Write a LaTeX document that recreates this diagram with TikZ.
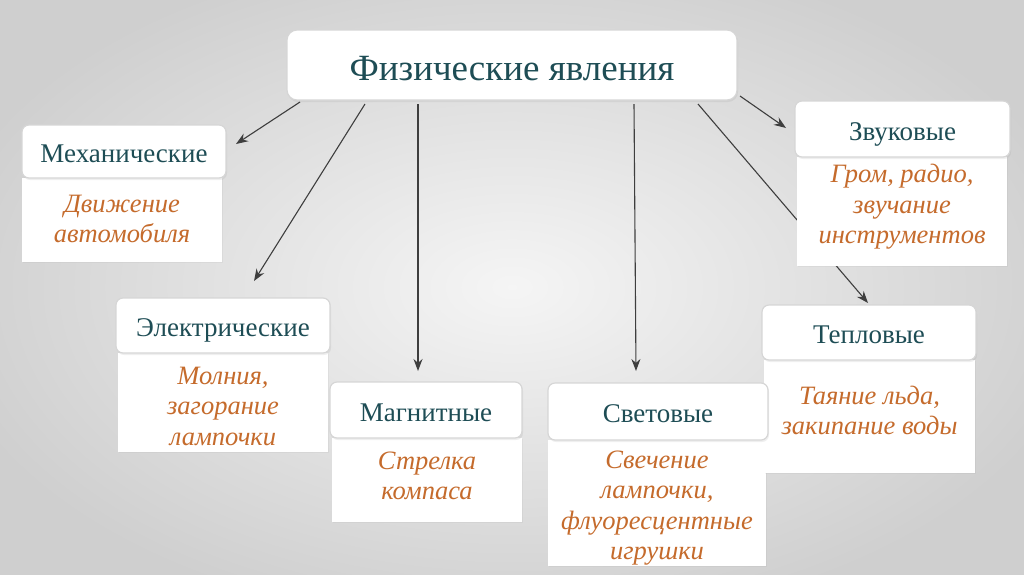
\documentclass[tikz,border=0pt]{standalone}
\usepackage{fontspec}
\setmainfont{Liberation Serif}
\usetikzlibrary{shadows,arrows.meta,calc}
\definecolor{teal1}{HTML}{1E4D55}
\definecolor{orng}{HTML}{C56B2C}
\definecolor{arr}{HTML}{3E3E3E}
\definecolor{hbord}{HTML}{D6D6D6}
\begin{document}
\begin{tikzpicture}[x=1pt,y=-1pt,
  headbox/.style={draw=hbord,line width=1.2pt,fill=white,rounded corners=7pt,
    text=teal1,font=\fontsize{27}{31}\selectfont,inner sep=0pt,
    text height=24pt,text depth=2pt,
    drop shadow={opacity=0.12,shadow xshift=1pt,shadow yshift=-2pt}},
  contbox/.style={fill=white,inner sep=0pt,
    drop shadow={opacity=0.08,shadow xshift=1pt,shadow yshift=-1pt}},
  conttext/.style={text=orng,align=center,inner sep=0pt,
    font=\fontsize{26.5}{30.5}\itshape\selectfont},
  conn/.style={draw=arr,line width=1.1pt,-{Stealth[length=12pt,width=9pt]}}
]
\useasboundingbox (0,0) rectangle (1024,574);
\shade[inner color=white!96!black,outer color=white!81!black] (-80,-60) rectangle (1104,634);

% title
\node[headbox,minimum width=450pt,minimum height=70pt,rounded corners=10pt,
  text height=33pt,text depth=2pt,
  font=\fontsize{37}{42}\selectfont] (title) at (512,65) {Физические явления};

% connector coordinates
\coordinate (s1) at (300,102);
\coordinate (s2) at (365,104);
\coordinate (s3) at (418,104);
\coordinate (s4) at (634,104);
\coordinate (s5) at (698,104);
\coordinate (s6) at (740,96);
\coordinate (e1) at (236,144);
\coordinate (e2) at (254,281);
\coordinate (e3) at (418,371);
\coordinate (e4) at (636,371);
\coordinate (e5) at (868,303);
\coordinate (e6) at (786,128);

\draw[conn] (s1) -- (e1);
\draw[conn] (s2) -- (e2);
\draw[conn] (s3) -- (e3);
\draw[conn] (s4) -- (e4);
\draw[conn] (s5) -- (e5);
\draw[conn] (s6) -- (e6);

% content boxes
\node[contbox,minimum width=200pt,minimum height=84pt] (mechC) at (122,220) {};
\node[contbox,minimum width=210pt,minimum height=99pt] (elecC) at (223,402.5) {};
\node[contbox,minimum width=190pt,minimum height=84pt] (magnC) at (427,480) {};
\node[contbox,minimum width=218pt,minimum height=126pt] (lighC) at (657,503) {};
\node[contbox,minimum width=210pt,minimum height=109pt] (soundC) at (902,211.5) {};
\node[contbox,minimum width=211pt,minimum height=113pt] (thermC) at (869.5,416.5) {};

% header boxes
\node[headbox,minimum width=204pt,minimum height=53pt] (mechH) at (124,151.5) {Механические};
\node[headbox,minimum width=214pt,minimum height=55pt] (elecH) at (223,325.5) {Электрические};
\node[headbox,minimum width=192pt,minimum height=56pt] (magnH) at (426,410) {Магнитные};
\node[headbox,minimum width=220pt,minimum height=57pt] (lighH) at (658,411.5) {Световые};
\node[headbox,minimum width=215pt,minimum height=56pt] (soundH) at (902.5,129) {Звуковые};
\node[headbox,minimum width=214pt,minimum height=55pt] (thermH) at (869,332.5) {Тепловые};

% content texts
\node[conttext] (mechT) at (122,219) {Движение\\автомобиля};
\node[conttext] (elecT) at (223,406) {Молния,\\загорание\\лампочки};
\node[conttext] (magnT) at (427,476) {Стрелка\\компаса};
\node[conttext] (lighT) at (657,508) {Свечение\\лампочки,\\флуоресцентные\\игрушки};
\node[conttext] (soundT) at (902,207) {Гром, радио,\\звучание\\инструментов};
\node[conttext] (thermT) at (869.5,410.5) {Таяние льда,\\закипание воды};
\end{tikzpicture}
\end{document}
